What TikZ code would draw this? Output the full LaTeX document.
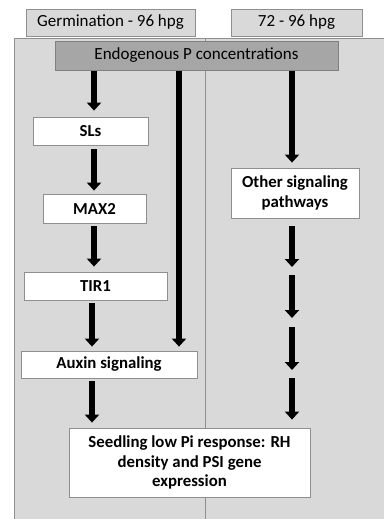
\documentclass[tikz,border=0pt]{standalone}
\usepackage{fontspec}
\setmainfont{Carlito}
\usetikzlibrary{arrows.meta}
\definecolor{panel}{HTML}{D9D9D9}
\definecolor{edge}{HTML}{8F8F8F}
\definecolor{dark}{HTML}{A6A6A6}
\tikzset{
  box/.style={draw=edge, line width=0.8pt, fill=white, inner sep=0pt, align=center, font=\fontsize{16.8}{19.5}\selectfont\bfseries},
  hdr/.style={draw=edge, line width=0.8pt, fill=panel, inner sep=0pt, align=center, font=\fontsize{17}{20}\selectfont},
  arr/.style={line width=6pt, -{Triangle[width=14pt,length=8pt]}},
  bar/.style={line width=6.5pt, -{Triangle[width=14pt,length=8pt]}},
}
\begin{document}
\begin{tikzpicture}[x=1pt,y=-1pt]
\useasboundingbox (0,0) rectangle (384,519);
\fill[white] (0,0) rectangle (384,519);
% panels
\fill[panel] (14,38) rectangle (384,519);
\draw[edge, line width=0.8pt] (14,519) -- (14,38) -- (384,38);
\draw[edge, line width=0.8pt] (205,38) -- (205,519);
% headers
\node[hdr, minimum width=169pt, minimum height=27pt] (germ) at (110.5,22.5) {Germination - 96 hpg};
\node[hdr, minimum width=131pt, minimum height=27pt] (late) at (296.5,22.5) {72 - 96 hpg};
\node[hdr, fill=dark, draw=gray, minimum width=283pt, minimum height=29pt] (endo) at (196.5,55.5) {Endogenous P concentrations};
% boxes
\node[box, minimum width=115pt, minimum height=28pt] (sls) at (90.5,131) {SLs};
\node[box, minimum width=103pt, minimum height=29pt] (max2) at (94.5,208.5) {MAX2};
\node[box, minimum width=143pt, minimum height=28pt] (tir1) at (95.5,286) {TIR1};
\node[box, minimum width=176pt, minimum height=27pt] (auxin) at (109,364.5) {Auxin signaling};
\node[box, minimum width=128pt, minimum height=50pt] (other) at (295,193) {Other signaling\\pathways};
\node[box, minimum width=241pt, minimum height=69pt] (seed) at (189.5,462.5) {Seedling low Pi response: RH\\density and PSI gene\\expression};
% guide coordinates
\coordinate (xa) at (94,0);
\coordinate (xb) at (92,0);
\coordinate (xc) at (179,0);
\coordinate (xd) at (292,0);
\coordinate (r1) at (292,267);
\coordinate (r2) at (292,275);
\coordinate (r3) at (292,318);
\coordinate (r4) at (292,327);
\coordinate (r5) at (292,370);
\coordinate (r6) at (292,378);
% arrows
\draw[arr, shorten <=1pt, shorten >=6pt] (endo.south -| xa) -- (sls.north -| xa);
\draw[arr, shorten <=4pt, shorten >=3pt] (sls.south -| xa) -- (max2.north -| xa);
\draw[arr, shorten <=3pt, shorten >=5pt] (max2.south -| xa) -- (tir1.north -| xa);
\draw[arr, shorten <=3pt, shorten >=4pt] (tir1.south -| xb) -- (auxin.north -| xb);
\draw[bar, shorten <=1pt, shorten >=4pt] (endo.south -| xc) -- (auxin.north -| xc);
\draw[arr, shorten <=3pt, shorten >=5pt] (auxin.south -| xb) -- (seed.north -| xb);
\draw[arr, shorten <=1pt, shorten >=5pt] (endo.south -| xd) -- (other.north -| xd);
\draw[arr, shorten <=8pt] (other.south -| xd) -- (r1);
\draw[arr] (r2) -- (r3);
\draw[arr] (r4) -- (r5);
\draw[arr, shorten >=8pt] (r6) -- (seed.north -| xd);
\end{tikzpicture}
\end{document}
